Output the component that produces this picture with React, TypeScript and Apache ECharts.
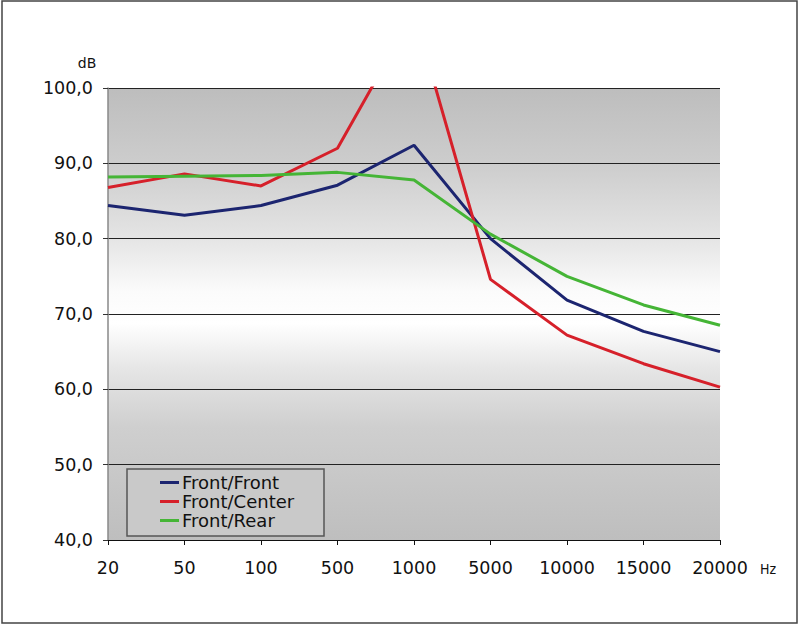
import React, { useEffect, useRef } from "react";
import * as echarts from "echarts";

const categories = ["20", "50", "100", "500", "1000", "5000", "10000", "15000", "20000"];
const frontFront = [84.4, 83.1, 84.4, 87.1, 92.4, 80.0, 71.85, 67.7, 65.0];
const frontCenter = [86.8, 88.6, 87.0, 92.0, 110.0, 74.6, 67.2, 63.4, 60.3];
const frontRear = [88.2, 88.3, 88.4, 88.8, 87.8, 80.6, 75.0, 71.2, 68.5];
const seriesNames = ["Front/Front", "Front/Center", "Front/Rear"];
const seriesColors = ["#1c2570", "#d6202a", "#45b536"];

const FONT = "DejaVu Sans";

export default function App() {
  const ref = useRef<HTMLDivElement>(null);
  useEffect(() => {
    if (!ref.current) return;
    const chart = echarts.init(ref.current, null, { renderer: "svg" });
    const data = [frontFront, frontCenter, frontRear];
    chart.setOption({
      animation: false,
      backgroundColor: "#ffffff",
      grid: {
        left: 108,
        right: 80,
        top: 88,
        bottom: 86,
        show: true,
        borderWidth: 0,
        backgroundColor: new echarts.graphic.LinearGradient(0, 0, 0, 1, [
          { offset: 0, color: "#bdbdbd" },
          { offset: 0.17, color: "#cdcdcd" },
          { offset: 0.33, color: "#e4e4e4" },
          { offset: 0.45, color: "#fbfbfb" },
          { offset: 0.52, color: "#ffffff" },
          { offset: 0.62, color: "#e6e6e6" },
          { offset: 0.75, color: "#cfcfcf" },
          { offset: 1, color: "#bebebe" },
        ]),
      },
      xAxis: {
        type: "category",
        data: categories,
        boundaryGap: false,
        axisLine: { show: true, lineStyle: { color: "#111", width: 1.2 } },
        axisTick: { show: true, alignWithLabel: true, length: 5, lineStyle: { color: "#111" } },
        axisLabel: { fontFamily: FONT, fontSize: 17.5, color: "#111", margin: 19 },
        splitLine: { show: false },
      },
      yAxis: {
        type: "value",
        min: 40,
        max: 100,
        interval: 10,
        axisLine: { show: true, lineStyle: { color: "#888", width: 1.5 } },
        axisTick: { show: true, length: 5, lineStyle: { color: "#333" } },
        axisLabel: {
          fontFamily: FONT,
          fontSize: 17.5,
          color: "#111",
          margin: 15,
          formatter: (v: number) => v.toFixed(1).replace(".", ","),
        },
        splitLine: { show: true, lineStyle: { color: "#222", width: 1 } },
      },
      legend: {
        orient: "vertical",
        left: 160,
        top: 473,
        z: 20,
        icon: "rect",
        itemWidth: 19,
        itemHeight: 3,
        itemGap: 0,
        padding: 0,
        textStyle: { fontFamily: FONT, fontSize: 18, color: "#111", lineHeight: 19, padding: [0, 0, 0, -2] },
        data: seriesNames,
      },
      graphic: [
        {
          type: "rect",
          shape: { x: 2, y: 1, width: 795, height: 622 },
          style: { fill: "none", stroke: "#444", lineWidth: 1.5 },
          silent: true,
          z: 100,
        },
        {
          type: "rect",
          shape: { x: 127, y: 469, width: 197, height: 67 },
          style: { fill: "#c9c9c9", stroke: "#555", lineWidth: 1.5 },
          silent: true,
          z: 3,
        },
        {
          type: "text",
          x: 87,
          y: 63,
          style: { text: "dB", fontFamily: FONT, fontSize: 14, fill: "#111", align: "center", verticalAlign: "middle" },
          silent: true,
        },
        {
          type: "text",
          x: 768,
          y: 569,
          style: { text: "Hz", fontFamily: "DejaVu Sans Condensed", fontSize: 14, fill: "#111", align: "center", verticalAlign: "middle" },
          silent: true,
        },
      ],
      series: data.map((d, i) => ({
        name: seriesNames[i],
        type: "line",
        data: d,
        clip: true,
        showSymbol: false,
        symbol: "none",
        color: seriesColors[i],
        lineStyle: { width: 3, color: seriesColors[i] },
        z: 2,
      })),
    });
    return () => chart.dispose();
  }, []);
  return <div ref={ref} style={{ position: "fixed", left: 0, top: 0, width: 800, height: 626 }} />;
}
